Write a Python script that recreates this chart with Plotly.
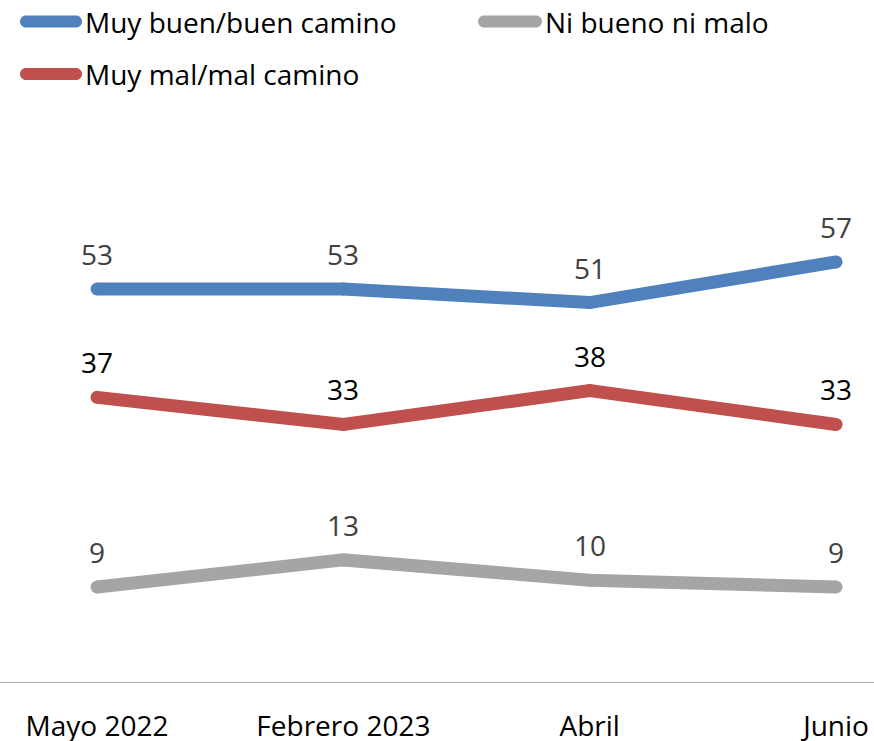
import plotly.graph_objects as go

categories = ["Mayo 2022", "Febrero 2023", "Abril", "Junio"]
series_names = ["Muy buen/buen camino", "Ni bueno ni malo", "Muy mal/mal camino"]
buen_values = [53, 53, 51, 57]
ni_values = [9, 13, 10, 9]
mal_values = [37, 33, 38, 33]

colors = {"Muy buen/buen camino": "#4f81bd",
          "Ni bueno ni malo": "#a5a5a5",
          "Muy mal/mal camino": "#c0504d"}
label_colors = {"Muy buen/buen camino": "#404040",
                "Ni bueno ni malo": "#404040",
                "Muy mal/mal camino": "#000000"}
values = {"Muy buen/buen camino": buen_values,
          "Ni bueno ni malo": ni_values,
          "Muy mal/mal camino": mal_values}

FONT = "Open Sans"
FS = 28
W, H = 874, 741
MT, MB = 100, 59
PH = H - MT - MB

fig = go.Figure()
annotations = []
for name in series_names:
    fig.add_trace(go.Scatter(
        x=categories, y=values[name], mode="lines+markers", name=name,
        line=dict(color=colors[name], width=13),
        marker=dict(color=colors[name], size=13, line=dict(width=0)),
        showlegend=False, hoverinfo="skip",
    ))
    for c, v in zip(categories, values[name]):
        annotations.append(dict(
            x=c, y=v, xref="x", yref="y", text=str(v), showarrow=False,
            yshift=35, font=dict(family=FONT, size=FS, color=label_colors[name]),
        ))

# custom legend
def py2paper(py):
    return (H - MB - py) / PH

legend_items = [
    (series_names[0], 20, 21.5),
    (series_names[1], 478, 21.5),
    (series_names[2], 20, 74),
]
shapes = []
for name, lx, ly in legend_items:
    L = 62 if lx < 100 else 64
    r = 6
    k = 0.5523 * r
    path = (f"M {r},{-r} H {L - r} C {L - r + k},{-r} {L},{-k} {L},0 "
            f"C {L},{k} {L - r + k},{r} {L - r},{r} H {r} "
            f"C {r - k},{r} 0,{k} 0,0 C 0,{-k} {r - k},{-r} {r},{-r} Z")
    shapes.append(dict(
        type="path", xref="paper", yref="paper",
        xsizemode="pixel", ysizemode="pixel",
        xanchor=lx / W, yanchor=py2paper(ly),
        path=path, fillcolor=colors[name], line=dict(width=0),
    ))
    annotations.append(dict(
        x=(lx + L + 1) / W, y=py2paper(ly), xref="paper", yref="paper",
        xanchor="left", yanchor="middle", text=name, showarrow=False,
        font=dict(family=FONT, size=FS, color="#000000"),
    ))

fig.update_layout(
    width=W, height=H,
    margin=dict(l=0, r=0, t=MT, b=MB, pad=0, autoexpand=False),
    paper_bgcolor="white", plot_bgcolor="white",
    showlegend=False,
    font=dict(family=FONT, size=FS, color="#000000"),
    xaxis=dict(
        type="category", range=[-0.394, 3.154],
        showgrid=False, zeroline=False, automargin=False,
        showline=True, linecolor="#a6a6a6", linewidth=1.3,
        ticks="", ticklabelstandoff=19,
        tickfont=dict(family=FONT, size=FS, color="#000000"),
        fixedrange=True,
    ),
    yaxis=dict(
        range=[-5.03, 80.91], visible=False, showgrid=False,
        zeroline=False, fixedrange=True, automargin=False,
    ),
    annotations=annotations,
    shapes=shapes,
)

fig.write_html(
    "out.html",
    config={"displayModeBar": False},
    post_script=(
        "var s='margin:0;padding:0;overflow:hidden;height:741px;width:874px;';"
        "document.documentElement.style.cssText=s;"
        "document.body.style.cssText=s;"
    ),
)
